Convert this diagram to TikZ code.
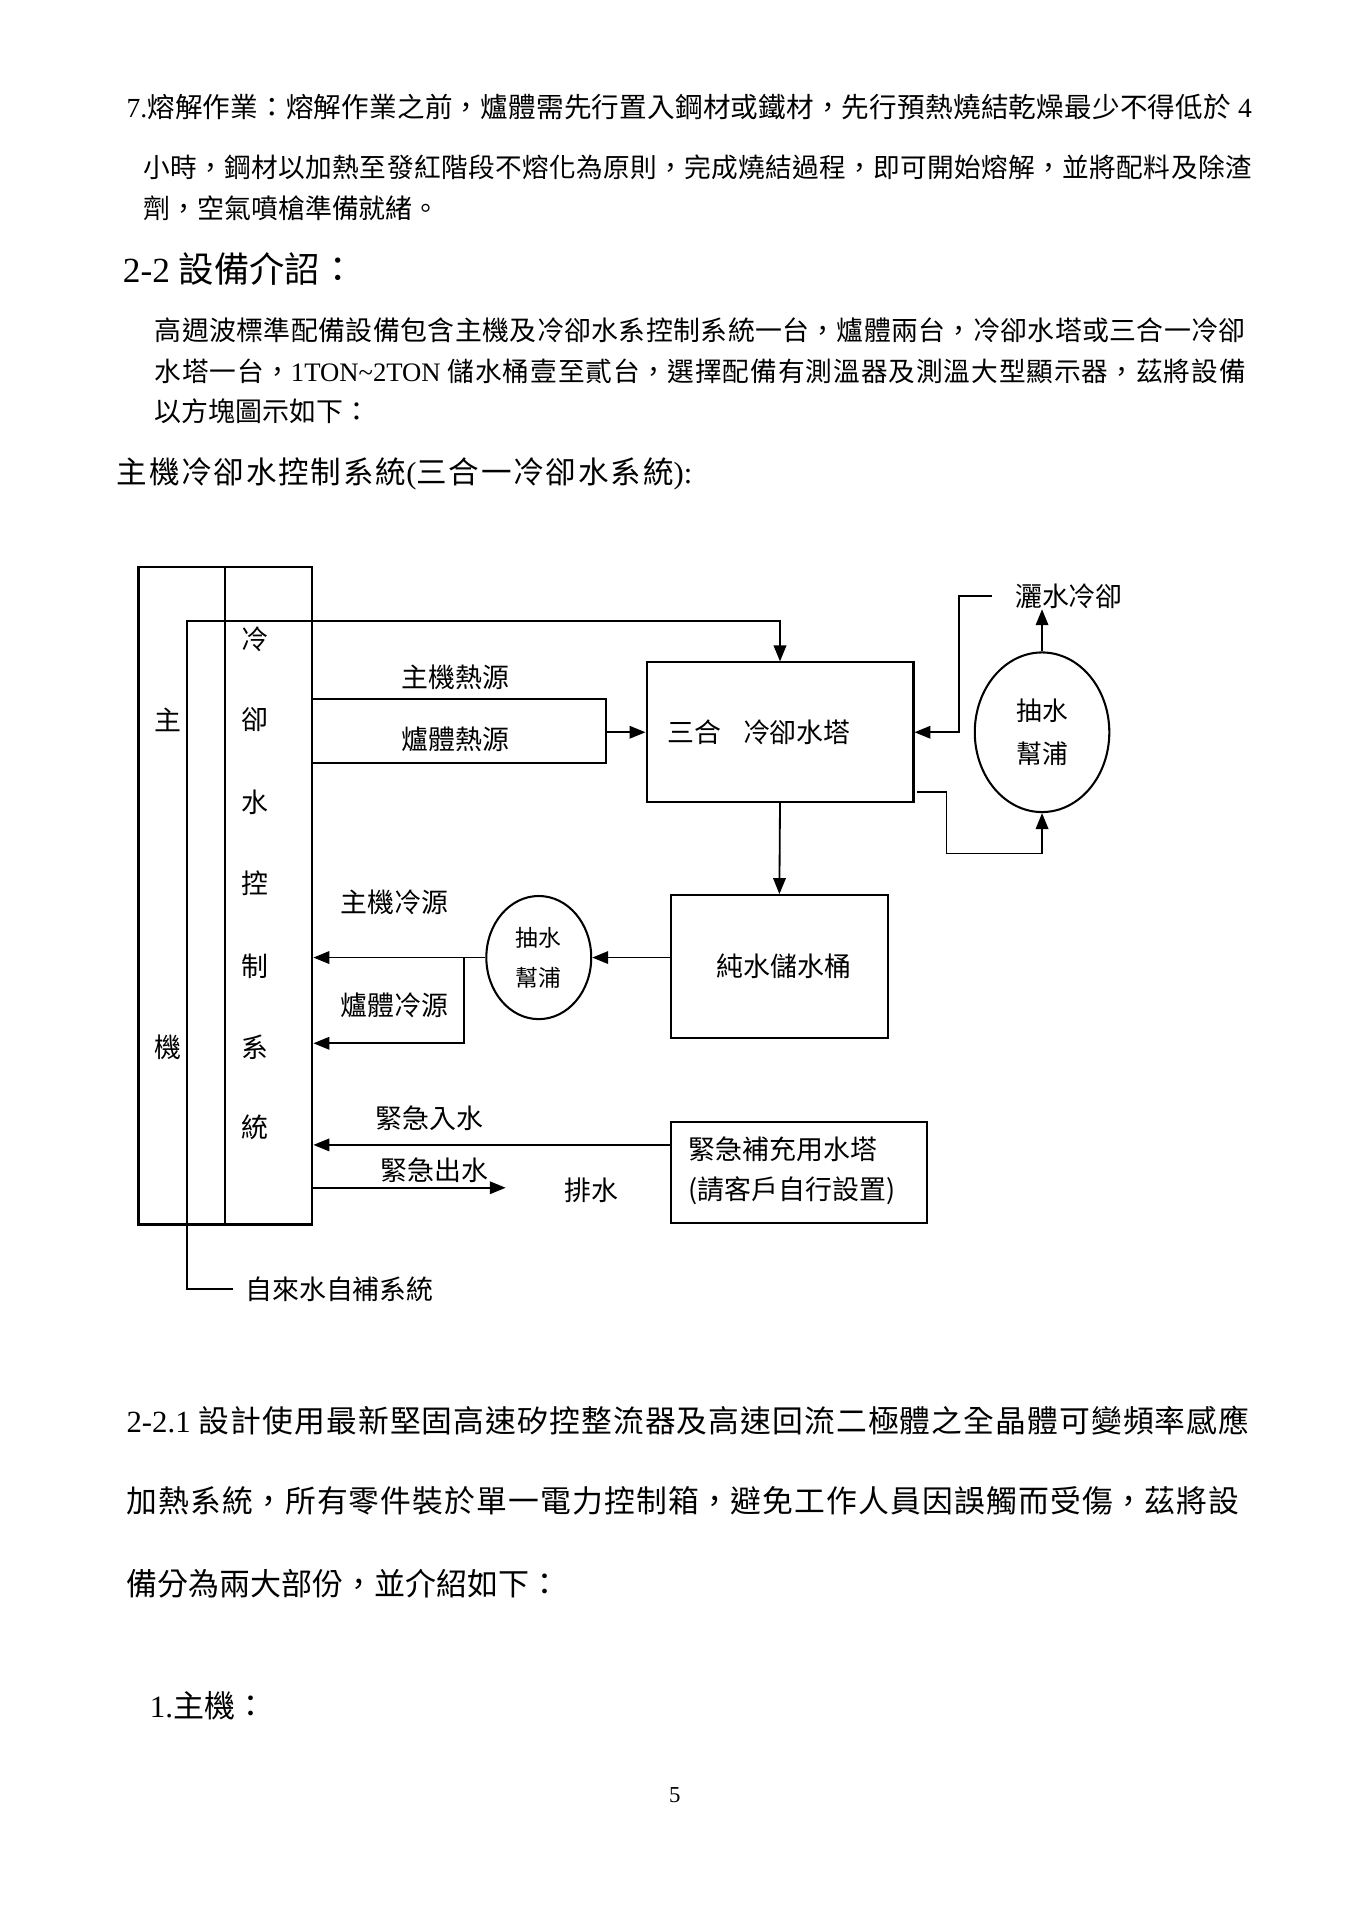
\documentclass[tikz,border=0pt]{standalone}
\usepackage{fontspec}
\setmainfont{Liberation Serif}
\newfontfamily\cjk{Noto Sans CJK TC}
\usetikzlibrary{arrows.meta,shapes.geometric,fit,calc}
\newdimen\Ud \Ud=0.53699pt
\newcommand\jl[3]{\parbox{#1\Ud}{\fontsize{#2}{#2}\selectfont\parindent=0pt\parfillskip=0pt\leftskip=0pt\rightskip=0pt\XeTeXlinebreaklocale "zh"\XeTeXlinebreakskip=0pt plus 4pt\relax #3\par}}
\newcommand\nl[2]{\hbox{\fontsize{#1}{#1}\selectfont #2}}
\begin{document}
\begin{tikzpicture}[x=0.53699pt,y=-0.53699pt,
  every node/.style={inner sep=0pt, font=\cjk\fontsize{11.8pt}{14pt}\selectfont},
  body/.style={anchor=west, font=\rmfamily},
  box/.style={draw, line width=0.9pt, inner sep=0pt},
  ln/.style={line width=0.8pt},
  arr/.style={line width=0.8pt, -{Triangle[length=7pt,width=5.5pt]}},
  pump/.style={draw, ellipse, line width=0.9pt, align=center}]
\fill[white] (0,0) rectangle (1108,1568);
\useasboundingbox (0,0) rectangle (1108,1568);

% ---------- text above ----------
\node[body] (p1) at (103,87) {\jl{919}{12.1pt}{7.{\cjk 熔解作業：熔解作業之前，爐體需先行置入鋼材或鐵材，先行預熱燒結乾燥最少不得低於} 4}};
\node[body] (p2) at (117,137) {\jl{905}{11.7pt}{\cjk 小時，鋼材以加熱至發紅階段不熔化為原則，完成燒結過程，即可開始熔解，並將配料及除渣}};
\node[body] (p3) at (117,170) {\nl{11.8pt}{\cjk 劑，空氣噴槍準備就緒。}};
\node[body] (h22) at (100,220) {\nl{15.5pt}{2-2 {\cjk 設備介詔：}}};
\node[body] (q1) at (126,270) {\jl{891}{11.8pt}{\cjk 高週波標準配備設備包含主機及冷卻水系控制系統一台，爐體兩台，冷卻水塔或三合一冷卻}};
\node[body] (q2) at (126,303) {\jl{891}{11.7pt}{{\cjk 水塔一台，}1TON\char`\~2TON {\cjk 儲水桶壹至貳台，選擇配備有測溫器及測溫大型顯示器，茲將設備}}};
\node[body] (q3) at (126,336) {\nl{11.8pt}{\cjk 以方塊圖示如下：}};
\node[body] (cap) at (95,387) {\jl{470}{13.4pt}{{\cjk 主機冷卻水控制系統}({\cjk 三合一冷卻水系統}):}};

% ---------- diagram ----------
\node[box, line width=1pt, fit={(113,463) (184,1000)}] (host) {};
\node[box, line width=1pt, fit={(184,463) (255,1000)}] (ctrl) {};
\node (hz) at (137,588) {主};
\node (hj) at (137,855) {機};
\foreach \c/\yy [count=\i] in {冷/522,卻/588,水/655,控/721,制/789,系/855,統/921}
  \node (c\i) at (208,\yy) {\c};

\node[box, fit={(528,541) (746,655)}] (tower) {};
\node (towert) at (620,598) {三合\hspace{0.8em}冷卻水塔};
\node[box, fit={(548,731) (725,848)}] (tank) {};
\node (tankt) at (640,789) {純水儲水桶};
\node[box, fit={(548,916) (757,999)}] (emg) {};
\node[anchor=west, align=left, font=\cjk\fontsize{11.8pt}{17.7pt}\selectfont] (emgt) at (562,956) {緊急補充用水塔\\(請客戶自行設置)};

\node[pump, minimum width=59pt, minimum height=70pt, font=\cjk\fontsize{11.3pt}{18.8pt}\selectfont] (pump1) at (851,598) {抽水\\幫浦};
\node[pump, minimum width=46pt, minimum height=54pt, font=\cjk\fontsize{10pt}{17.7pt}\selectfont] (pump2) at (440,782) {抽水\\幫浦};

\node (spray) at (873,487) {灑水冷卻};
\node[anchor=west] (tap) at (200,1053) {自來水自補系統};
\node (lh1) at (372,553) {主機熱源};
\node (lh2) at (372,604) {爐體熱源};
\node (lc1) at (322,737) {主機冷源};
\node (lc2) at (322,821) {爐體冷源};
\node (ein) at (351,913) {緊急入水};
\node (eout) at (355,956) {緊急出水};
\node (drainT) at (483,972) {排水};

\coordinate (tapend) at (190,1053);
\coordinate (topL) at (153,507);
\coordinate (hk) at (495,571);
\coordinate (hb) at (495,623);
\coordinate (sp0) at (810,487);
\coordinate (spC) at (783,598);
\coordinate (tw1) at (749,647);
\coordinate (tw2) at (773,697);
\coordinate (j2) at (379,782);
\coordinate (y852) at (0,852);
\coordinate (y935) at (0,935);
\coordinate (drain) at (413,970);

% tap water line into tower
\draw[arr] (tapend) -| (topL) -| (tower.north);
% heat sources
\draw[ln] (ctrl.east |- hk) -- (hk) -- (hb) -- (ctrl.east |- hb);
\draw[arr] (hk |- tower.west) -- (tower.west);
% spray cooling
\draw[arr] (sp0) -| (spC) -- (tower.east);
\draw[arr] (pump1.north) -- (pump1.north |- spray.south);
\draw[arr] (tw1) -| (tw2) -| (pump1.south);
% tower to tank
\draw[arr] (tower.south) -- (tank.north);
% tank to pump2 to control
\draw[arr] (tank.west |- pump2.east) -- (pump2.east);
\draw[arr] (pump2.west) -- (pump2.west -| ctrl.east);
\draw[arr] (j2) |- (ctrl.east |- y852);
% emergency
\draw[arr] (emg.west |- y935) -- (ctrl.east |- y935);
\draw[arr] (ctrl.east |- drain) -- (drain);

% ---------- text below ----------
\node[body] (r1) at (103,1160) {\jl{917}{13.5pt}{2-2.1 {\cjk 設計使用最新堅固高速矽控整流器及高速回流二極體之全晶體可變頻率感應}}};
\node[body] (r2) at (103,1226) {\jl{909}{13.5pt}{\cjk 加熱系統，所有零件裝於單一電力控制箱，避免工作人員因誤觸而受傷，茲將設}};
\node[body] (r3) at (103,1293) {\nl{13.6pt}{\cjk 備分為兩大部份，並介紹如下：}};
\node[body] (s1) at (122,1393) {\nl{13.6pt}{1.{\cjk 主機：}}};
\node (pg) at (551,1466) {\rmfamily\fontsize{10pt}{12pt}\selectfont 5};
\end{tikzpicture}
\end{document}
